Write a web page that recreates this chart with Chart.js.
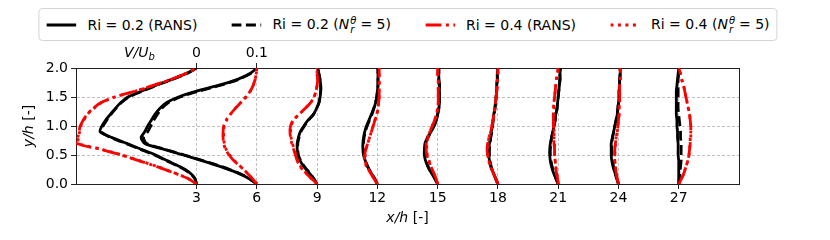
<!DOCTYPE html>
<html>
<head>
<meta charset="utf-8">
<script src="https://cdn.jsdelivr.net/npm/chart.js@4.4.0/dist/chart.umd.min.js"></script>
<style>
  body { margin: 0; background: #fff; }
  #wrap { position: relative; width: 830px; height: 240px; }
  #legend {
    position: absolute; top: 8px; left: 408px; transform: translateX(-50%);
    height: 31px; display: flex; align-items: center; gap: 34px; padding: 0 7px;
    border: 1px solid #d4d4d4; border-radius: 4px; background: #fff;
    font-family: "DejaVu Sans"; font-size: 14px; white-space: nowrap; color: #000;
  }
  .item { display: flex; align-items: center; }
  .item svg { margin-right: 11px; }
  .ss { display: inline-flex; flex-direction: column; vertical-align: middle; font-size: 10px; line-height: 9px; font-style: italic; margin: 0 4px 0 1px; }
</style>
</head>
<body>
<div id="wrap">
  <canvas id="profiles" width="830" height="240"></canvas>
  <div id="legend"></div>
</div>
<script>
// y/h levels where each profile is sampled
const yLevels = [0, 0.1, 0.2, 0.3, 0.4, 0.5, 0.6, 0.7, 0.8, 0.9, 1.0, 1.1, 1.2, 1.3, 1.4, 1.5, 1.6, 1.7, 1.8, 1.9, 2.0];
// x/h stations (also bottom tick labels)
const stations = [3, 6, 9, 12, 15, 18, 21, 24, 27];
const yTicks = [0, 0.5, 1.0, 1.5, 2.0];
// top axis: V/U_b = 0 at x/h = 3, V/U_b = 0.1 at x/h = 6
const topTickPos = [3, 6];
const topTickLabels = ["0", "0.1"];
const vScale = 30;

// V/U_b, one row per station
const ri02Rans = [
  [0, -0.003, -0.012, -0.028, -0.048, -0.068, -0.092, -0.116, -0.140, -0.160, -0.157, -0.151, -0.143, -0.135, -0.126, -0.114, -0.092, -0.068, -0.042, -0.018, 0],
  [0, -0.014, -0.034, -0.060, -0.090, -0.122, -0.155, -0.186, -0.192, -0.186, -0.181, -0.175, -0.169, -0.161, -0.150, -0.130, -0.100, -0.064, -0.033, -0.012, 0],
  [0, -0.006, -0.014, -0.022, -0.028, -0.032, -0.033, -0.033, -0.031, -0.028, -0.022, -0.015, -0.006, -0.001, 0.003, 0.005, 0.006, 0.006, 0.005, 0.003, 0.001],
  [0, -0.005, -0.011, -0.016, -0.020, -0.023, -0.024, -0.024, -0.023, -0.021, -0.018, -0.014, -0.010, -0.006, -0.003, -0.001, 0, 0.001, 0.001, 0.001, 0.001],
  [0, -0.005, -0.011, -0.016, -0.020, -0.022, -0.022, -0.021, -0.017, -0.011, -0.006, -0.002, 0.000, 0.002, 0.003, 0.003, 0.003, 0.003, 0.002, 0.002, 0.002],
  [0, -0.004, -0.008, -0.012, -0.014, -0.015, -0.015, -0.014, -0.012, -0.011, -0.009, -0.008, -0.007, -0.005, -0.004, -0.003, -0.002, -0.002, -0.001, -0.001, 0],
  [0, -0.004, -0.008, -0.011, -0.013, -0.014, -0.014, -0.013, -0.011, -0.009, -0.007, -0.005, -0.004, -0.002, -0.001, 0.000, 0.001, 0.002, 0.003, 0.003, 0.004],
  [0, -0.003, -0.006, -0.009, -0.011, -0.012, -0.012, -0.012, -0.010, -0.008, -0.006, -0.004, -0.002, -0.001, 0.000, 0.001, 0.001, 0.002, 0.002, 0.003, 0.003],
  [0, 0, 0, 0, 0, -0.001, -0.001, -0.001, -0.002, -0.002, -0.003, -0.003, -0.004, -0.004, -0.004, -0.004, -0.004, -0.003, -0.002, -0.001, 0],
];
const ri02N5 = [
  [0, -0.003, -0.013, -0.029, -0.050, -0.070, -0.094, -0.118, -0.142, -0.158, -0.155, -0.149, -0.142, -0.134, -0.125, -0.112, -0.090, -0.067, -0.041, -0.017, 0],
  [0, -0.013, -0.033, -0.058, -0.088, -0.120, -0.153, -0.183, -0.188, -0.181, -0.176, -0.171, -0.165, -0.158, -0.147, -0.127, -0.097, -0.061, -0.031, -0.011, 0],
  [0, -0.006, -0.013, -0.021, -0.027, -0.031, -0.032, -0.032, -0.030, -0.027, -0.021, -0.014, -0.006, -0.001, 0.003, 0.005, 0.006, 0.006, 0.005, 0.003, 0.001],
  [0, -0.005, -0.011, -0.016, -0.020, -0.022, -0.023, -0.023, -0.022, -0.020, -0.017, -0.013, -0.009, -0.006, -0.003, -0.001, 0, 0.001, 0.001, 0.001, 0.001],
  [0, -0.005, -0.011, -0.016, -0.019, -0.021, -0.021, -0.020, -0.016, -0.011, -0.006, -0.002, 0.000, 0.002, 0.003, 0.003, 0.003, 0.003, 0.002, 0.002, 0.002],
  [0, -0.004, -0.008, -0.011, -0.013, -0.014, -0.014, -0.013, -0.012, -0.010, -0.009, -0.008, -0.006, -0.005, -0.004, -0.003, -0.002, -0.002, -0.001, -0.001, 0],
  [0, -0.004, -0.007, -0.010, -0.012, -0.013, -0.013, -0.012, -0.011, -0.009, -0.007, -0.005, -0.004, -0.002, -0.001, 0.000, 0.001, 0.002, 0.003, 0.003, 0.004],
  [0, -0.003, -0.006, -0.008, -0.010, -0.011, -0.011, -0.011, -0.010, -0.008, -0.006, -0.004, -0.002, -0.001, 0.000, 0.001, 0.001, 0.002, 0.002, 0.003, 0.003],
  [0, 0.001, 0.002, 0.003, 0.004, 0.004, 0.004, 0.004, 0.003, 0.003, 0.002, 0.001, 0.000, -0.001, -0.001, -0.001, -0.001, -0.001, -0.001, 0, 0],
];
const ri04Rans = [
  [0, -0.015, -0.040, -0.066, -0.095, -0.125, -0.160, -0.198, -0.197, -0.195, -0.193, -0.188, -0.182, -0.172, -0.159, -0.136, -0.102, -0.072, -0.043, -0.019, 0],
  [0, -0.008, -0.017, -0.027, -0.038, -0.046, -0.052, -0.055, -0.056, -0.056, -0.055, -0.051, -0.044, -0.036, -0.027, -0.018, -0.011, -0.006, -0.003, -0.001, 0],
  [0, -0.010, -0.020, -0.028, -0.033, -0.036, -0.039, -0.042, -0.044, -0.045, -0.044, -0.040, -0.030, -0.020, -0.011, -0.005, -0.002, 0.000, 0.001, 0.000, 0],
  [0, -0.006, -0.012, -0.018, -0.021, -0.021, -0.019, -0.016, -0.013, -0.010, -0.007, -0.004, -0.001, 0.001, 0.002, 0.003, 0.003, 0.003, 0.003, 0.003, 0.003],
  [0, -0.003, -0.007, -0.011, -0.015, -0.018, -0.019, -0.019, -0.017, -0.013, -0.009, -0.005, -0.002, 0.000, 0.001, 0.001, 0.001, 0.001, 0.001, 0.000, 0.000],
  [0, -0.004, -0.008, -0.012, -0.015, -0.017, -0.018, -0.017, -0.015, -0.012, -0.010, -0.008, -0.007, -0.005, -0.004, -0.003, -0.002, -0.001, -0.001, 0, 0],
  [0, -0.001, -0.003, -0.004, -0.005, -0.006, -0.006, -0.007, -0.007, -0.007, -0.008, -0.008, -0.008, -0.008, -0.007, -0.006, -0.005, -0.004, -0.003, -0.001, 0],
  [0, -0.002, -0.004, -0.005, -0.006, -0.006, -0.006, -0.005, -0.004, -0.002, -0.001, 0.000, 0.001, 0.001, 0.002, 0.002, 0.002, 0.002, 0.003, 0.003, 0.003],
  [0, 0.005, 0.009, 0.012, 0.015, 0.017, 0.018, 0.019, 0.020, 0.020, 0.020, 0.019, 0.018, 0.016, 0.014, 0.012, 0.010, 0.008, 0.005, 0.003, 0],
];
const ri04N5 = [
  [0, -0.015, -0.039, -0.065, -0.094, -0.124, -0.158, -0.196, -0.196, -0.194, -0.192, -0.187, -0.181, -0.171, -0.158, -0.135, -0.101, -0.071, -0.043, -0.019, 0],
  [0, -0.008, -0.017, -0.027, -0.037, -0.045, -0.051, -0.054, -0.055, -0.055, -0.054, -0.050, -0.044, -0.036, -0.027, -0.018, -0.011, -0.006, -0.003, -0.001, 0],
  [0, -0.010, -0.019, -0.027, -0.032, -0.035, -0.038, -0.041, -0.043, -0.044, -0.043, -0.039, -0.030, -0.020, -0.011, -0.005, -0.002, 0.000, 0.001, 0.000, 0],
  [0, -0.006, -0.012, -0.017, -0.020, -0.020, -0.019, -0.016, -0.013, -0.010, -0.007, -0.004, -0.001, 0.001, 0.002, 0.003, 0.003, 0.003, 0.003, 0.003, 0.003],
  [0, -0.003, -0.007, -0.011, -0.014, -0.017, -0.018, -0.018, -0.016, -0.013, -0.009, -0.005, -0.002, 0.000, 0.001, 0.001, 0.001, 0.001, 0.001, 0.000, 0.000],
  [0, -0.004, -0.008, -0.012, -0.015, -0.017, -0.017, -0.016, -0.015, -0.012, -0.010, -0.008, -0.007, -0.005, -0.004, -0.003, -0.002, -0.001, -0.001, 0, 0],
  [0, -0.001, -0.003, -0.004, -0.005, -0.006, -0.006, -0.006, -0.007, -0.007, -0.007, -0.008, -0.008, -0.007, -0.007, -0.006, -0.005, -0.004, -0.003, -0.001, 0],
  [0, -0.002, -0.004, -0.005, -0.006, -0.006, -0.006, -0.005, -0.004, -0.002, -0.001, 0.000, 0.001, 0.001, 0.002, 0.002, 0.002, 0.002, 0.003, 0.003, 0.003],
  [0, 0.005, 0.009, 0.012, 0.015, 0.017, 0.018, 0.019, 0.019, 0.020, 0.020, 0.019, 0.018, 0.016, 0.014, 0.012, 0.010, 0.008, 0.005, 0.003, 0],
];

const NR = "<i>N</i><span class='ss'><span>&theta;</span><span>r</span></span>= 5";
const series = [
  { label: "Ri = 0.2 (RANS)", html: "Ri = 0.2 (RANS)", values: ri02Rans, color: "#000000", dash: [], order: 4 },
  { label: "Ri = 0.2 (N_r^θ = 5)", html: "Ri = 0.2 (" + NR + ")", values: ri02N5, color: "#000000", dash: [10, 4.5], order: 3 },
  { label: "Ri = 0.4 (RANS)", html: "Ri = 0.4 (RANS)", values: ri04Rans, color: "#ff0000", dash: [16, 4.5, 3, 4.5], order: 1 },
  { label: "Ri = 0.4 (N_r^θ = 5)", html: "Ri = 0.4 (" + NR + ")", values: ri04N5, color: "#ff0000", dash: [3, 4.5], order: 2 },
];

const FONT = "DejaVu Sans";
const LINE_W = 2.8;

function buildDatasets() {
  const datasets = [];
  series.forEach((s) => {
    stations.forEach((st, i) => {
      datasets.push({
        label: s.label,
        data: yLevels.map((y, k) => ({ x: st + vScale * s.values[i][k], y: y })),
        showLine: true,
        borderColor: s.color,
        borderWidth: LINE_W,
        borderDash: s.dash,
        pointRadius: 0,
        tension: 0.25,
        order: s.order,
      });
    });
  });
  return datasets;
}

function buildLegend() {
  const legend = document.getElementById("legend");
  legend.innerHTML = series
    .map((s) => `
      <div class="item">
        <svg width="30" height="10"><line x1="0" y1="5" x2="30" y2="5" stroke="${s.color}" stroke-width="${LINE_W}" stroke-dasharray="${s.dash.length ? s.dash.join(" ") : "none"}"/></svg>
        <span>${s.html}</span>
      </div>`)
    .join("");
}

// draws a run of [font, text, yOffset] pieces as one label
function drawPieces(ctx, pieces, x, y, align) {
  let total = 0;
  pieces.forEach((p) => {
    ctx.font = p[0];
    total += ctx.measureText(p[1]).width;
  });
  let cx = align === "center" ? x - total / 2 : x;
  ctx.textAlign = "left";
  pieces.forEach((p) => {
    ctx.font = p[0];
    ctx.fillText(p[1], cx, y + (p[2] || 0));
    cx += ctx.measureText(p[1]).width;
  });
}

const mathLabels = {
  id: "mathLabels",
  afterDraw(chart) {
    const { ctx, chartArea: a } = chart;
    const it = `italic 14px '${FONT}'`;
    const up = `14px '${FONT}'`;
    ctx.save();
    ctx.fillStyle = "#000";
    ctx.textBaseline = "alphabetic";
    // x/h [-]
    drawPieces(ctx, [[it, "x/h"], [up, " [-]"]], (a.left + a.right) / 2, 222, "center");
    // V/U_b next to the top ticks
    drawPieces(ctx, [[it, "V/U"], [`italic 10px '${FONT}'`, "b", 3]], 124, 57, "left");
    // y/h [-]
    ctx.translate(33, (a.top + a.bottom) / 2);
    ctx.rotate(-Math.PI / 2);
    drawPieces(ctx, [[it, "y/h"], [up, " [-]"]], 0, 0, "center");
    ctx.restore();
  },
};

const tickFont = { family: FONT, size: 14 };
const frame = { color: "#222222", width: 1 };

function renderChart() {
  const ctx = document.getElementById("profiles").getContext("2d");
  new Chart(ctx, {
    type: "scatter",
    data: { datasets: buildDatasets() },
    options: {
      responsive: false,
      animation: false,
      devicePixelRatio: 1,
      layout: { padding: { left: 0, right: 91, top: 0, bottom: 0 }, autoPadding: false },
      plugins: { legend: { display: false }, tooltip: { enabled: false } },
      scales: {
        x: {
          type: "linear",
          position: "bottom",
          min: -3,
          max: 30,
          afterBuildTicks: (axis) => { axis.ticks = stations.map((v) => ({ value: v })); },
          afterFit: (axis) => { axis.height = 56; },
          ticks: { font: tickFont, color: "#000", padding: 1, autoSkip: false, maxRotation: 0 },
          grid: { color: "#b0b0b0", lineWidth: 0.8, tickColor: "#222", tickLength: 5, tickWidth: 1, tickBorderDash: [] },
          border: { color: frame.color, width: frame.width, dash: [3, 2] },
        },
        x2: {
          type: "linear",
          position: "top",
          min: -3,
          max: 30,
          afterBuildTicks: (axis) => { axis.ticks = topTickPos.map((v) => ({ value: v })); },
          afterFit: (axis) => { axis.height = 68; },
          ticks: {
            font: tickFont, color: "#000", padding: 1, autoSkip: false, maxRotation: 0,
            callback: (v) => topTickLabels[topTickPos.indexOf(v)],
          },
          grid: { drawOnChartArea: false, tickColor: "#222", tickLength: 5, tickWidth: 1 },
          border: frame,
        },
        y: {
          type: "linear",
          position: "left",
          min: 0,
          max: 2,
          afterBuildTicks: (axis) => { axis.ticks = yTicks.map((v) => ({ value: v })); },
          afterFit: (axis) => { axis.width = 76; },
          ticks: { font: tickFont, color: "#000", padding: 3, callback: (v) => v.toFixed(1) },
          grid: { color: "#b0b0b0", lineWidth: 0.8, tickColor: "#222", tickLength: 5, tickWidth: 1, tickBorderDash: [] },
          border: { color: frame.color, width: frame.width, dash: [3, 2] },
        },
        y2: {
          type: "linear",
          position: "right",
          min: 0,
          max: 2,
          afterFit: (axis) => { axis.width = 0; },
          ticks: { display: false },
          grid: { drawOnChartArea: false, drawTicks: false },
          border: frame,
        },
      },
    },
    plugins: [mathLabels],
  });
}

buildLegend();
renderChart();
</script>
</body>
</html>
